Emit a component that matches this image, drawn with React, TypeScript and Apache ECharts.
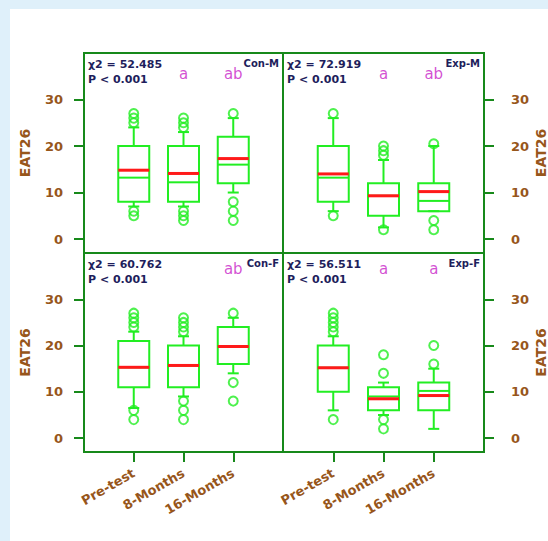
import React, { useEffect, useRef } from 'react';
import * as echarts from 'echarts';

// ---- data ----
const categories = ['Pre-test', '8-Months', '16-Months'];
const panelNames = ['Con-M', 'Exp-M', 'Con-F', 'Exp-F'];
const chiSquare = ['52.485', '72.919', '60.762', '56.511'];
const pText = ['P < 0.001', 'P < 0.001', 'P < 0.001', 'P < 0.001'];
const yTicks = [0, 10, 20, 30];

const whiskerLow = [[7, 7, 10], [6, 2.5, 6], [6.5, 9, 14], [6, 5, 2]];
const q1 = [[8, 8, 12], [8, 5, 6], [11, 11, 16], [10, 6, 6]];
const median = [[13.2, 12.2, 16], [13.2, 9.3, 8.2], [15.3, 15.7, 19.8], [15.2, 9, 10.2]];
const q3 = [[20, 20, 22], [20, 12, 12], [21, 20, 24], [20, 11, 12]];
const whiskerHigh = [[24, 23, 26], [26, 17, 20], [23, 22, 26], [22, 12, 15]];
const mean = [[14.8, 14.1, 17.3], [14, 9.3, 10.2], [15.3, 15.7, 19.8], [15.2, 8.5, 9.2]];

const outliersConM = [[1, 25], [1, 26], [1, 27], [1, 6], [1, 5], [2, 24], [2, 25], [2, 26], [2, 6], [2, 5], [2, 4], [3, 27], [3, 8], [3, 6], [3, 4]];
const outliersExpM = [[1, 27], [1, 5], [2, 18], [2, 19], [2, 20], [2, 2], [3, 20.5], [3, 4], [3, 2]];
const outliersConF = [[1, 24], [1, 25], [1, 26], [1, 27], [1, 6], [1, 4], [2, 23], [2, 24], [2, 25], [2, 26], [2, 8], [2, 6], [2, 4], [3, 27], [3, 12], [3, 8]];
const outliersExpF = [[1, 23], [1, 24], [1, 25], [1, 26], [1, 27], [1, 4], [2, 14], [2, 18], [2, 4], [2, 2], [3, 16], [3, 20]];
const outliers = [outliersConM, outliersExpM, outliersConF, outliersExpF];

const groupLetters = [['', 'a', 'ab'], ['', 'a', 'ab'], ['', '', 'ab'], ['', 'a', 'a']];
const letterLevel = [35.5, 35.5, 36.5, 36.5];

// ---- style ----
const FRAME = '#17891a';
const BOX = '#22ee22';
const RED = '#ff1a1a';
const BROWN = '#97561b';
const NAVY = '#1e1e5c';
const MAGENTA = '#c81fc8';
const FONT = '"DejaVu Sans", sans-serif';

const GRIDS = [
  { left: 84, top: 53, width: 199, height: 200 },
  { left: 283, top: 53, width: 201, height: 200 },
  { left: 84, top: 253, width: 199, height: 199 },
  { left: 283, top: 253, width: 201, height: 199 },
];

function renderBox(params: any, api: any) {
  const x = api.value(0);
  const lo = api.coord([x, api.value(1)]);
  const b1 = api.coord([x, api.value(2)]);
  const md = api.coord([x, api.value(3)]);
  const b3 = api.coord([x, api.value(4)]);
  const hi = api.coord([x, api.value(5)]);
  const mn = api.coord([x, api.value(6)]);
  const cx = lo[0];
  const hw = 15.5;
  const cw = 5.5;
  const ls = { stroke: BOX, lineWidth: 2, fill: null };
  return {
    type: 'group',
    children: [
      { type: 'line', shape: { x1: cx, y1: b3[1], x2: cx, y2: hi[1] }, style: ls },
      { type: 'line', shape: { x1: cx - cw, y1: hi[1], x2: cx + cw, y2: hi[1] }, style: ls },
      { type: 'line', shape: { x1: cx, y1: b1[1], x2: cx, y2: lo[1] }, style: ls },
      { type: 'line', shape: { x1: cx - cw, y1: lo[1], x2: cx + cw, y2: lo[1] }, style: ls },
      { type: 'rect', shape: { x: cx - hw, y: b3[1], width: hw * 2, height: b1[1] - b3[1] }, style: { stroke: BOX, lineWidth: 2, fill: 'none' } },
      { type: 'line', shape: { x1: cx - hw, y1: md[1], x2: cx + hw, y2: md[1] }, style: ls },
      { type: 'line', shape: { x1: cx - hw, y1: mn[1], x2: cx + hw, y2: mn[1] }, style: { stroke: RED, lineWidth: 3 } },
    ],
  };
}

function buildOption() {
  const grid = GRIDS.map((g) => ({ ...g, show: true, borderColor: FRAME, borderWidth: 2, backgroundColor: 'transparent', containLabel: false, outerBoundsMode: 'none' }));
  const xAxis = GRIDS.map((_, i) => {
    const bottom = i >= 2;
    return {
      type: 'value', gridIndex: i, min: 0, max: 4, position: 'bottom',
      splitLine: { show: false }, axisLine: { show: false, onZero: false },
      axisTick: bottom ? { show: true, customValues: [1, 2, 3], length: 10, lineStyle: { color: FRAME, width: 2 } } : { show: false },
      axisLabel: bottom
        ? { show: true, customValues: [1, 2, 3], formatter: (v: number) => categories[Math.round(v) - 1] || '', rotate: 30, margin: 20, color: BROWN, fontWeight: 'bold', fontSize: 13, fontFamily: FONT }
        : { show: false },
    };
  });
  const yAxis = GRIDS.map((_, i) => {
    const left = i % 2 === 0;
    return {
      type: 'value', gridIndex: i, min: -3, max: 40, position: left ? 'left' : 'right',
      splitLine: { show: false }, axisLine: { show: false, onZero: false },
      axisTick: { show: true, customValues: yTicks, length: 10, lineStyle: { color: FRAME, width: 2 } },
      axisLabel: { show: true, customValues: yTicks, margin: left ? 21 : 27, color: BROWN, fontWeight: 'bold', fontSize: 13, fontFamily: FONT },
      name: 'EAT26', nameLocation: 'middle', nameRotate: 90, nameGap: left ? 52 : 50,
      nameTextStyle: { color: BROWN, fontWeight: 'bold', fontSize: 14, fontFamily: FONT },
    };
  });
  const series: any[] = [];
  GRIDS.forEach((_, i) => {
    series.push({
      type: 'custom', xAxisIndex: i, yAxisIndex: i, renderItem: renderBox, silent: true,
      encode: { x: 0, y: [1, 2, 3, 4, 5, 6] },
      data: categories.map((_, c) => [c + 1, whiskerLow[i][c], q1[i][c], median[i][c], q3[i][c], whiskerHigh[i][c], mean[i][c]]),
    });
    series.push({
      type: 'scatter', xAxisIndex: i, yAxisIndex: i, silent: true, symbol: 'circle', symbolSize: 9,
      itemStyle: { color: 'transparent', borderColor: BOX, borderWidth: 2 },
      data: outliers[i].map((d) => [d[0], d[1]]),
    });
    series.push({
      type: 'scatter', xAxisIndex: i, yAxisIndex: i, silent: true, symbolSize: 0,
      label: { show: true, position: 'inside', formatter: (p: any) => p.name, color: MAGENTA, fontSize: 15, fontFamily: FONT },
      data: groupLetters[i].map((t, c) => ({ name: t, value: [c + 1, letterLevel[i]] })).filter((d) => d.name !== ''),
    });
  });
  const graphic: any[] = [];
  GRIDS.forEach((g, i) => {
    const top = g.top;
    graphic.push({ type: 'text', x: g.left + 4, y: top + 11, style: { text: 'χ2 = ' + chiSquare[i], fill: NAVY, font: 'bold 11px ' + FONT, align: 'left', verticalAlign: 'middle' } });
    graphic.push({ type: 'text', x: g.left + 4, y: top + 26, style: { text: pText[i], fill: NAVY, font: 'bold 11px ' + FONT, align: 'left', verticalAlign: 'middle' } });
    graphic.push({ type: 'text', x: g.left + g.width - 4, y: top + 10, style: { text: panelNames[i], fill: NAVY, font: 'bold 10px ' + FONT, align: 'right', verticalAlign: 'middle' } });
  });
  return { animation: false, grid, xAxis, yAxis, series, graphic };
}

export default function App() {
  const ref = useRef<HTMLDivElement>(null);
  useEffect(() => {
    if (!ref.current) return;
    const chart = echarts.init(ref.current, null, { renderer: 'svg' });
    chart.setOption(buildOption() as any);
    return () => chart.dispose();
  }, []);
  return (
    <div style={{ position: 'fixed', left: 0, top: 0, width: 548, height: 541, background: '#dff0fa', overflow: 'hidden' }}>
      <div style={{ position: 'absolute', left: 10, top: 9, right: 0, bottom: 0, background: '#ffffff' }} />
      <div ref={ref} style={{ position: 'absolute', left: 0, top: 0, width: 548, height: 541 }} />
    </div>
  );
}
